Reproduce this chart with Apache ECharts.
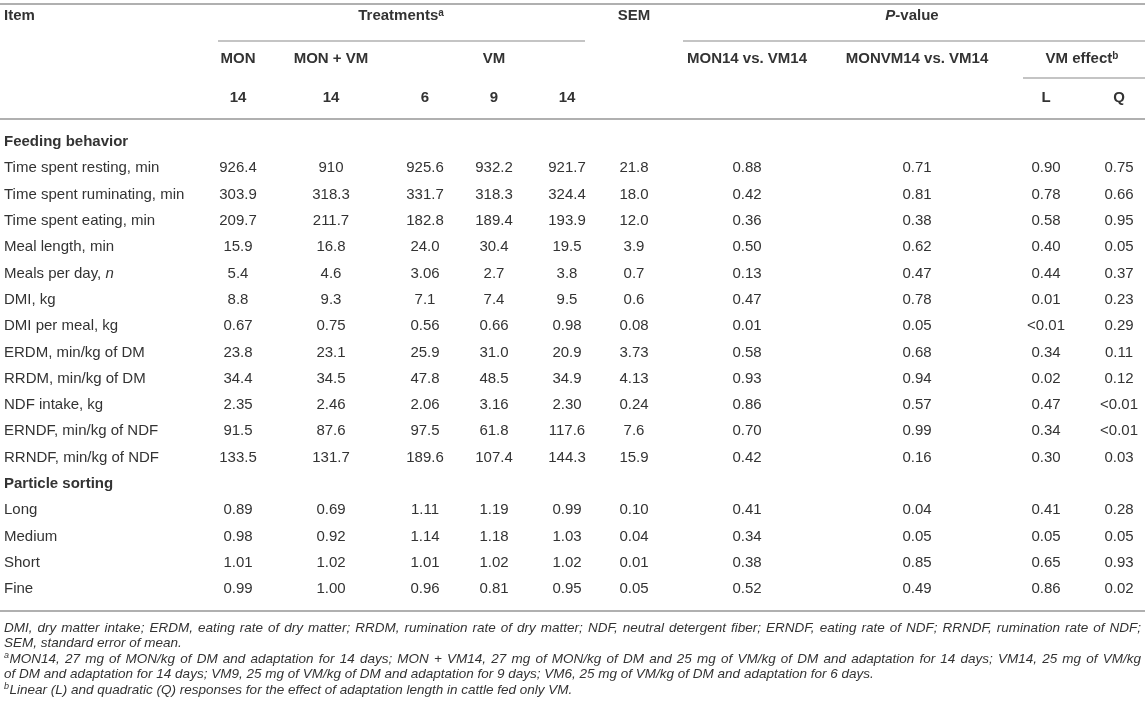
<!DOCTYPE html>
<html>
<head>
<meta charset="utf-8">
<script src="https://cdn.jsdelivr.net/npm/echarts@6/dist/echarts.min.js"></script>
<style>
  html, body { margin: 0; padding: 0; background: #fff; }
  #table { width: 1145px; height: 720px; }
</style>
</head>
<body>
<div id="table"></div>
<script>
// ---------- table data ----------
var feedingItems = ['Time spent resting, min', 'Time spent ruminating, min', 'Time spent eating, min',
    'Meal length, min', 'Meals per day, n', 'DMI, kg', 'DMI per meal, kg', 'ERDM, min/kg of DM',
    'RRDM, min/kg of DM', 'NDF intake, kg', 'ERNDF, min/kg of NDF', 'RRNDF, min/kg of NDF'];
var sortingItems = ['Long', 'Medium', 'Short', 'Fine'];

var mon14   = ['926.4', '303.9', '209.7', '15.9', '5.4', '8.8', '0.67', '23.8', '34.4', '2.35', '91.5', '133.5', '0.89', '0.98', '1.01', '0.99'];
var monVm14 = ['910', '318.3', '211.7', '16.8', '4.6', '9.3', '0.75', '23.1', '34.5', '2.46', '87.6', '131.7', '0.69', '0.92', '1.02', '1.00'];
var vm6     = ['925.6', '331.7', '182.8', '24.0', '3.06', '7.1', '0.56', '25.9', '47.8', '2.06', '97.5', '189.6', '1.11', '1.14', '1.01', '0.96'];
var vm9     = ['932.2', '318.3', '189.4', '30.4', '2.7', '7.4', '0.66', '31.0', '48.5', '3.16', '61.8', '107.4', '1.19', '1.18', '1.02', '0.81'];
var vm14    = ['921.7', '324.4', '193.9', '19.5', '3.8', '9.5', '0.98', '20.9', '34.9', '2.30', '117.6', '144.3', '0.99', '1.03', '1.02', '0.95'];
var sem     = ['21.8', '18.0', '12.0', '3.9', '0.7', '0.6', '0.08', '3.73', '4.13', '0.24', '7.6', '15.9', '0.10', '0.04', '0.01', '0.05'];
var pMonVsVm   = ['0.88', '0.42', '0.36', '0.50', '0.13', '0.47', '0.01', '0.58', '0.93', '0.86', '0.70', '0.42', '0.41', '0.34', '0.38', '0.52'];
var pMonVmVsVm = ['0.71', '0.81', '0.38', '0.62', '0.47', '0.78', '0.05', '0.68', '0.94', '0.57', '0.99', '0.16', '0.04', '0.05', '0.85', '0.49'];
var vmLinear    = ['0.90', '0.78', '0.58', '0.40', '0.44', '0.01', '<0.01', '0.34', '0.02', '0.47', '0.34', '0.30', '0.41', '0.05', '0.65', '0.86'];
var vmQuadratic = ['0.75', '0.66', '0.95', '0.05', '0.37', '0.23', '0.29', '0.11', '0.12', '<0.01', '<0.01', '0.03', '0.28', '0.05', '0.93', '0.02'];

var doseLabels = ['14', '14', '6', '9', '14'];

var footnotes = [
    'DMI, dry matter intake; ERDM, eating rate of dry matter; RRDM, rumination rate of dry matter; NDF, neutral detergent fiber; ERNDF, eating rate of NDF; RRNDF, rumination rate of NDF;',
    'SEM, standard error of mean.',
    'MON14, 27 mg of MON/kg of DM and adaptation for 14 days; MON + VM14, 27 mg of MON/kg of DM and 25 mg of VM/kg of DM and adaptation for 14 days; VM14, 25 mg of VM/kg',
    'of DM and adaptation for 14 days; VM9, 25 mg of VM/kg of DM and adaptation for 9 days; VM6, 25 mg of VM/kg of DM and adaptation for 6 days.',
    'Linear (L) and quadratic (Q) responses for the effect of adaptation length in cattle fed only VM.'
];
var footMarks = ['', '', 'a', '', 'b'];

// ---------- layout ----------
var FONT = '"Liberation Sans", Arial, Helvetica, sans-serif';
var TEXT = '#333';
var RULE = '#b0b0b0';
var sections = ['Feeding behavior', 'Particle sorting'];
var rows = [sections[0]].concat(feedingItems, [sections[1]], sortingItems);
var columns = [mon14, monVm14, vm6, vm9, vm14, sem, pMonVsVm, pMonVmVsVm, vmLinear, vmQuadratic];
var colX = [238, 331, 425, 494, 567, 634, 747, 917, 1046, 1119];
var justified = [true, false, true, false, false];
var FOOT_FONT = 'italic 13.5px ' + FONT;

var chart = echarts.init(document.getElementById('table'));

// one scatter series per column, a label per cell
var items = feedingItems.concat(sortingItems);
var series = [];
for (var c = 0; c < columns.length; c++) {
    var data = [];
    for (var k = 0; k < items.length; k++) {
        data.push([colX[c], items[k]]);
    }
    (function (col) {
        series.push({
            type: 'scatter',
            data: data,
            symbolSize: 1,
            silent: true,
            itemStyle: { color: 'rgba(0,0,0,0)', opacity: 1 },
            label: {
                show: true,
                position: 'inside',
                color: TEXT,
                opacity: 1,
                textBorderWidth: 0,
                fontFamily: FONT,
                fontSize: 15,
                formatter: function (p) { return col[p.dataIndex]; }
            }
        });
    })(columns[c]);
}

function hText(x, y, text, align) {
    return {
        type: 'text', x: x, y: y, silent: true,
        style: {
            text: text, fill: TEXT, font: 'bold 15px ' + FONT,
            align: align || 'center', verticalAlign: 'middle',
            rich: {
                s: { fontSize: 10, fontWeight: 'bold', fontFamily: FONT, fill: TEXT, verticalAlign: 'top', padding: [0, 0, 6, 0] },
                i: { fontSize: 15, fontWeight: 'bold', fontStyle: 'italic', fontFamily: FONT, fill: TEXT }
            }
        }
    };
}
function rule(x1, x2, y, w) {
    return { type: 'line', silent: true, shape: { x1: x1, y1: y, x2: x2, y2: y }, style: { stroke: RULE, lineWidth: w || 1.5 } };
}
function footWord(x, y, text, font) {
    return { type: 'text', x: x, y: y, silent: true,
        style: { text: text, fill: TEXT, font: font, align: 'left', verticalAlign: 'middle' } };
}

var graphics = [
    rule(0, 1145, 4, 2),
    rule(218, 585, 41),
    rule(683, 1145, 41),
    rule(1023, 1145, 78),
    rule(0, 1145, 119, 2),
    rule(0, 1145, 611, 2),
    hText(4, 16, 'Item', 'left'),
    hText(401, 16, 'Treatments{s|a}'),
    hText(634, 16, 'SEM'),
    hText(912, 16, '{i|P}-value'),
    hText(238, 59, 'MON'),
    hText(331, 59, 'MON + VM'),
    hText(494, 59, 'VM'),
    hText(747, 59, 'MON14 vs. VM14'),
    hText(917, 59, 'MONVM14 vs. VM14'),
    hText(1082, 59, 'VM effect{s|b}'),
    hText(1046, 98, 'L'),
    hText(1119, 98, 'Q')
];
for (var d = 0; d < doseLabels.length; d++) {
    graphics.push(hText(colX[d], 98, doseLabels[d]));
}

// footnotes, the full lines set justified word by word
var ctx = document.createElement('canvas').getContext('2d');
for (var f = 0; f < footnotes.length; f++) {
    var y = 628 + f * 15.5;
    var x0 = 4;
    if (footMarks[f]) {
        ctx.font = 'italic 9px ' + FONT;
        graphics.push(footWord(x0, y - 4, footMarks[f], 'italic 9px ' + FONT));
        x0 += ctx.measureText(footMarks[f]).width + 0.5;
    }
    if (!justified[f]) {
        graphics.push(footWord(x0, y, footnotes[f], FOOT_FONT));
        continue;
    }
    ctx.font = FOOT_FONT;
    var words = footnotes[f].split(' ');
    var total = 0;
    var widths = [];
    for (var w = 0; w < words.length; w++) {
        widths.push(ctx.measureText(words[w]).width);
        total += widths[w];
    }
    var gap = (1141 - x0 - total) / (words.length - 1);
    var x = x0;
    for (var w2 = 0; w2 < words.length; w2++) {
        graphics.push(footWord(x, y, words[w2], FOOT_FONT));
        x += widths[w2] + gap;
    }
}

var options = {
    animation: false,
    grid: { left: 0, right: 0, top: 128.85, bottom: 117.75, containLabel: false },
    xAxis: { type: 'value', min: 0, max: 1145, show: false },
    yAxis: {
        type: 'category',
        inverse: true,
        data: rows,
        axisLine: { show: false },
        axisTick: { show: false },
        splitLine: { show: false },
        axisLabel: {
            inside: true,
            margin: 4,
            color: TEXT,
            fontFamily: FONT,
            fontSize: 15,
            formatter: function (v) {
                if (sections.indexOf(v) >= 0) return '{b|' + v + '}';
                if (v === 'Meals per day, n') return 'Meals per day, {i|n}';
                return v;
            },
            rich: {
                b: { fontWeight: 'bold', fontSize: 15, fontFamily: FONT, color: TEXT },
                i: { fontStyle: 'italic', fontSize: 15, fontFamily: FONT, color: TEXT }
            }
        }
    },
    series: series,
    graphic: graphics
};
chart.setOption(options);
</script>
</body>
</html>
